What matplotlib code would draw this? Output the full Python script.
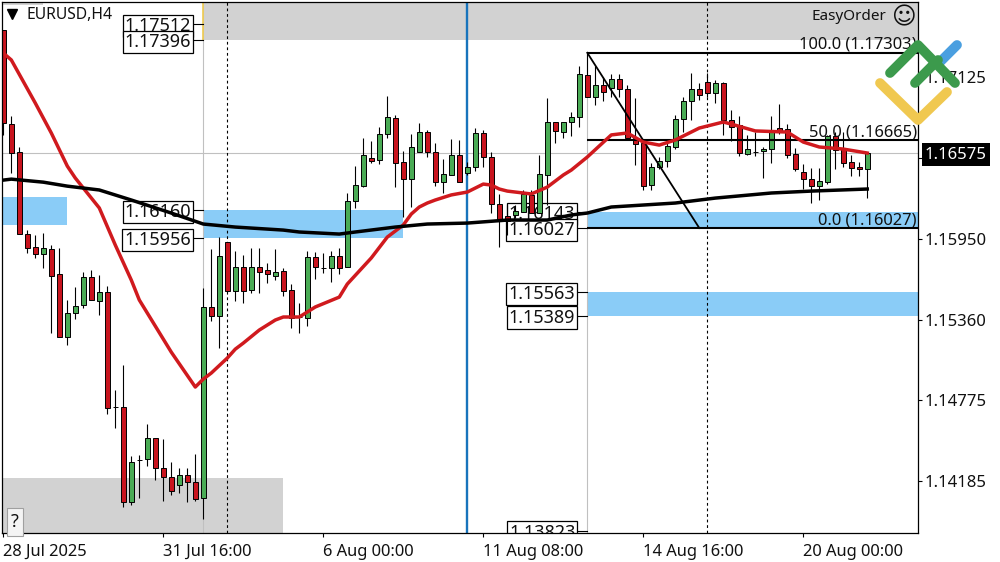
import matplotlib
matplotlib.use('Agg')
import matplotlib.pyplot as plt
from matplotlib.lines import Line2D

plt.rcParams['font.family'] = ['Noto Sans', 'DejaVu Sans']

# свічки EURUSD H4
opens = [1.17469, 1.16784, 1.16580, 1.15983, 1.15888, 1.15838, 1.15873, 1.15692, 1.15233, 1.15408,
         1.15467, 1.15670, 1.15496, 1.15560, 1.14723, 1.14723, 1.14031, 1.14337, 1.14344, 1.14498,
         1.14279, 1.14213, 1.14156, 1.14228, 1.14177, 1.14061, 1.15452, 1.15386, 1.15924, 1.15568,
         1.15743, 1.15575, 1.15743, 1.15721, 1.15677, 1.15714, 1.15575, 1.15379, 1.15372, 1.15816,
         1.15736, 1.15736, 1.15823, 1.15743, 1.16224, 1.16332, 1.16537, 1.16522, 1.16712, 1.16828,
         1.16507, 1.16383, 1.16580, 1.16726, 1.16580, 1.16361, 1.16413, 1.16559, 1.16427, 1.16471,
         1.16719, 1.16544, 1.16202, 1.16114, 1.16122, 1.16143, 1.16268, 1.16136, 1.16413, 1.16798,
         1.16726, 1.16798, 1.16835, 1.17142, 1.16981, 1.17069, 1.17047, 1.17112, 1.17039, 1.16683,
         1.16646, 1.16340, 1.16471, 1.16515, 1.16617, 1.16820, 1.16952, 1.17039, 1.17090, 1.17010,
         1.17083, 1.16813, 1.16777, 1.16566, 1.16580, 1.16588, 1.16602, 1.16755, 1.16747, 1.16566,
         1.16434, 1.16383, 1.16332, 1.16361, 1.16697, 1.16602, 1.16507, 1.16471, 1.16456]
closes = [1.16791, 1.16573, 1.15983, 1.15881, 1.15838, 1.15881, 1.15677, 1.15233, 1.15408, 1.15459,
          1.15670, 1.15503, 1.15560, 1.14716, 1.14723, 1.14031, 1.14322, 1.14337, 1.14498, 1.14279,
          1.14213, 1.14112, 1.14228, 1.14177, 1.14053, 1.15452, 1.15386, 1.15823, 1.15568, 1.15743,
          1.15568, 1.15743, 1.15706, 1.15692, 1.15706, 1.15568, 1.15372, 1.15379, 1.15816, 1.15743,
          1.15736, 1.15823, 1.15736, 1.16224, 1.16340, 1.16559, 1.16515, 1.16712, 1.16835, 1.16500,
          1.16383, 1.16617, 1.16726, 1.16580, 1.16361, 1.16420, 1.16559, 1.16361, 1.16471, 1.16719,
          1.16544, 1.16202, 1.16085, 1.16078, 1.16151, 1.16275, 1.16136, 1.16420, 1.16798, 1.16734,
          1.16798, 1.16835, 1.17149, 1.16981, 1.17069, 1.17017, 1.17112, 1.17039, 1.16683, 1.16639,
          1.16332, 1.16471, 1.16515, 1.16624, 1.16820, 1.16952, 1.17039, 1.16996, 1.17010, 1.17083,
          1.16813, 1.16762, 1.16573, 1.16602, 1.16580, 1.16602, 1.16741, 1.16734, 1.16559, 1.16456,
          1.16383, 1.16332, 1.16369, 1.16697, 1.16595, 1.16500, 1.16464, 1.16456, 1.16575]
highs = [1.17469, 1.16842, 1.16617, 1.16012, 1.15976, 1.15990, 1.15903, 1.15881, 1.15503, 1.15597,
         1.15706, 1.15721, 1.15685, 1.15604, 1.14847, 1.15030, 1.14366, 1.14374, 1.14600, 1.14498,
         1.14490, 1.14322, 1.14279, 1.14279, 1.14381, 1.15590, 1.15873, 1.15961, 1.15924, 1.15860,
         1.15831, 1.15881, 1.15881, 1.15772, 1.15873, 1.15736, 1.15619, 1.15481, 1.15860, 1.15852,
         1.15845, 1.15860, 1.15881, 1.16282, 1.16478, 1.16683, 1.16661, 1.16762, 1.16988, 1.16850,
         1.16588, 1.16712, 1.16791, 1.16741, 1.16646, 1.16529, 1.16675, 1.16668, 1.16507, 1.16755,
         1.16741, 1.16580, 1.16275, 1.16195, 1.16195, 1.16304, 1.16304, 1.16559, 1.16974, 1.16798,
         1.16798, 1.16871, 1.17207, 1.17303, 1.17207, 1.17127, 1.17149, 1.17149, 1.17069, 1.16974,
         1.16646, 1.16500, 1.16544, 1.16646, 1.16850, 1.16981, 1.17156, 1.17083, 1.17156, 1.17105,
         1.17090, 1.16886, 1.16842, 1.16705, 1.16726, 1.16617, 1.16842, 1.16930, 1.16784, 1.16610,
         1.16493, 1.16464, 1.16464, 1.16705, 1.16726, 1.16726, 1.16559, 1.16507, 1.16575]
lows = [1.16705, 1.16427, 1.15983, 1.15845, 1.15809, 1.15736, 1.15262, 1.15233, 1.15175, 1.15364,
        1.15445, 1.15503, 1.15394, 1.14672, 1.14571, 1.13995, 1.14010, 1.14061, 1.14293, 1.14192,
        1.14039, 1.14083, 1.14097, 1.14031, 1.14039, 1.13907, 1.15350, 1.15153, 1.15560, 1.15496,
        1.15481, 1.15553, 1.15553, 1.15626, 1.15648, 1.15531, 1.15299, 1.15262, 1.15313, 1.15655,
        1.15699, 1.15633, 1.15692, 1.15743, 1.16173, 1.16325, 1.16500, 1.16493, 1.16683, 1.16325,
        1.16107, 1.16180, 1.16580, 1.16544, 1.16332, 1.16282, 1.16413, 1.16361, 1.16413, 1.16442,
        1.16471, 1.16136, 1.15888, 1.15976, 1.16100, 1.16143, 1.16136, 1.16136, 1.16195, 1.16646,
        1.16683, 1.16697, 1.16762, 1.16981, 1.16923, 1.16952, 1.16981, 1.16981, 1.16668, 1.16486,
        1.16304, 1.16304, 1.16456, 1.16471, 1.16602, 1.16726, 1.16813, 1.16959, 1.16981, 1.16937,
        1.16705, 1.16661, 1.16551, 1.16559, 1.16551, 1.16391, 1.16500, 1.16712, 1.16537, 1.16442,
        1.16310, 1.16209, 1.16231, 1.16347, 1.16456, 1.16471, 1.16405, 1.16405, 1.16246]

# ковзні середні
red_bars = [0, 1, 4, 6, 8, 9, 12, 14, 16, 17, 21, 24, 25, 26, 28, 29, 30, 32, 34, 35, 37, 39, 42, 43, 46, 48,
            50, 51, 52, 53, 54, 56, 58, 60, 61, 62, 63, 65, 66, 68, 70, 71, 73, 76, 78, 80, 82, 84, 87, 90,
            91, 94, 98, 100, 102, 105, 108]
red_ma = [1.17301, 1.17251, 1.16937, 1.16719, 1.16478, 1.16391, 1.16173, 1.15903, 1.15648, 1.15503,
          1.15123, 1.14869, 1.14927, 1.14971, 1.15080, 1.15145, 1.15189, 1.15284, 1.15357, 1.15379,
          1.15379, 1.15452, 1.15524, 1.15619, 1.15809, 1.15961, 1.16049, 1.16129, 1.16180, 1.16209,
          1.16231, 1.16268, 1.16289, 1.16347, 1.16340, 1.16311, 1.16296, 1.16282, 1.16275, 1.16325,
          1.16413, 1.16449, 1.16544, 1.16705, 1.16719, 1.16653, 1.16631, 1.16668, 1.16755, 1.16799,
          1.16784, 1.16734, 1.16726, 1.16653, 1.16617, 1.16602, 1.16573]
black_bars = [0, 1, 5, 8, 12, 16, 21, 25, 29, 35, 37, 42, 44, 49, 53, 58, 63, 68, 71, 73, 76, 84, 89, 96, 101, 108]
black_ma = [1.16376, 1.16383, 1.16361, 1.16332, 1.16304, 1.16231, 1.16136, 1.16056, 1.16034, 1.16012,
            1.15998, 1.15983, 1.15998, 1.16034, 1.16056, 1.16063, 1.16085, 1.16085, 1.16122, 1.16136,
            1.16180, 1.16209, 1.16245, 1.16282, 1.16296, 1.16311]

# зони
blue_start = [-1, 25, 73, 73]
blue_end = [8, 50, 120, 120]
blue_low = [1.16049, 1.15956, 1.16027, 1.15389]
blue_high = [1.16253, 1.16160, 1.16143, 1.15563]
gray_start = [25, -1, -1]
gray_end = [120, 35, 5]
gray_low = [1.17396, 1.13700, 1.17650]
gray_high = [1.17800, 1.14206, 1.17800]

level_bars = [25, 25, 25, 25, 73, 73, 73, 73, 73]
level_prices = [1.17512, 1.17396, 1.16160, 1.15956, 1.16143, 1.16027, 1.15563, 1.15389, 1.13823]

fibo_levels = [1.17303, 1.16665, 1.16027]
fibo_labels = ['100.0 (1.17303)', '50.0 (1.16665)', '0.0 (1.16027)']

tick_bars = [0, 20, 40, 60, 80, 100]
tick_dates = ['28 Jul 2025', '31 Jul 16:00', '6 Aug 00:00', '11 Aug 08:00', '14 Aug 16:00', '20 Aug 00:00']
price_ticks = [1.17125, 1.16535, 1.15950, 1.15360, 1.14775, 1.14185]
last_price = 1.16575

W, H = 1000, 562
TEXT = '#111111'

fig = plt.figure(figsize=(W / 100, H / 100), dpi=100, facecolor='white')
ax = fig.add_axes([2 / W, 1 - 533 / H, 916 / W, 531 / H])
ax.set_xlim(-0.1625, 114.34)
ax.set_ylim(1.13806, 1.17673)
ax.set_axisbelow(False)

# зони та допоміжні лінії
for x0, x1, lo, hi in zip(gray_start, gray_end, gray_low, gray_high):
    ax.fill_between([x0, x1], lo, hi, color='#d2d2d2', lw=0, zorder=1)
for x0, x1, lo, hi in zip(blue_start, blue_end, blue_low, blue_high):
    ax.fill_between([x0, x1], lo, hi, color='#8accf7', lw=0, zorder=1)

ax.axhline(last_price, color='#c0c0c0', lw=0.8, zorder=1.5)
ax.axvline(25, color='#c0c0c0', lw=0.8, zorder=1.5)
ax.vlines(73, 1.13806, fibo_levels[0], color='#c0c0c0', lw=0.8, zorder=1.5)
ax.vlines(25, gray_low[0], 1.17673, color='#f0cc50', lw=1.2, zorder=1.6)
ax.axvline(28, color='black', lw=0.8, dashes=(2.5, 2.5), zorder=1.7)
ax.axvline(88, color='black', lw=0.8, dashes=(2.5, 2.5), zorder=1.7)
ax.axvline(58, color='#1874bc', lw=1.7, zorder=1.8)

# підписи рівнів
for bar, price in zip(level_bars, level_prices):
    ax.plot([bar - 1.25, bar], [price, price], color='black', lw=0.8, zorder=2)
    ax.annotate(f'{price:.5f}', xy=(bar, price), xycoords='data', xytext=(-12, 0),
                textcoords='offset pixels', ha='right', va='center_baseline', fontsize=13, color=TEXT,
                bbox=dict(boxstyle='square,pad=0.12', fc='white', ec='black', lw=0.9),
                annotation_clip=False, clip_on=True, zorder=2.1)

# свічки
for i in range(len(opens)):
    up = closes[i] > opens[i]
    ax.vlines(i, lows[i], highs[i], color='black', lw=0.8, zorder=3)
    ax.bar(i, closes[i] - opens[i], bottom=opens[i], width=0.58,
           color='#4aab55' if up else '#c8141e', edgecolor='black', linewidth=0.7, zorder=3.1)

# фібо
ax.hlines(fibo_levels, 73, 120, color='black', lw=1.5, zorder=3.3)
ax.plot([73, 87], [fibo_levels[0], fibo_levels[2]], color='black', lw=1.3, zorder=3.3)
for level, label in zip(fibo_levels, fibo_labels):
    ax.annotate(label, xy=(1, level), xycoords=('axes fraction', 'data'), xytext=(-1, 0),
                textcoords='offset pixels', ha='right', va='bottom', fontsize=11.9, color=TEXT, zorder=3.2)

ax.plot(red_bars, red_ma, color='#d01a1e', lw=2.5, zorder=4)
ax.plot(black_bars, black_ma, color='black', lw=2.5, zorder=4.2)

# осі
for side in ['left', 'right', 'top', 'bottom']:
    ax.spines[side].set_linewidth(0.9)
    ax.spines[side].set_zorder(6)
ax.yaxis.tick_right()
ax.set_yticks(price_ticks)
ax.set_yticklabels([f'{p:.5f}' for p in price_ticks], fontsize=12, color=TEXT)
ax.set_xticks(tick_bars)
ax.set_xticklabels(tick_dates, fontsize=11.9, color=TEXT, ha='left')
ax.tick_params(axis='both', length=3, width=0.8, pad=2)
ax.tick_params(axis='x', pad=5)

ax.annotate(f'{last_price:.5f}', xy=(1, last_price), xycoords=('axes fraction', 'data'), xytext=(7, 0),
            textcoords='offset pixels', ha='left', va='center_baseline', fontsize=12, color='white',
            bbox=dict(boxstyle='square,pad=0.2', fc='black', ec='black', lw=0), annotation_clip=False, zorder=7)

# написи у кутах
fig.text(26 / W, 1 - 15 / H, 'EURUSD,H4', fontsize=11.3, color=TEXT, va='center', ha='left')
fig.add_artist(Line2D([12 / W], [1 - 14 / H], marker='v', ms=7, color='black', lw=0, transform=fig.transFigure))
fig.text(886 / W, 1 - 16 / H, 'EasyOrder', fontsize=11, color=TEXT, va='center', ha='right')
fig.text(903 / W, 1 - 17 / H, '\u263a', family='DejaVu Sans', fontsize=17, color=TEXT, va='center', ha='center')
fig.text(15 / W, 1 - 522 / H, '?', fontsize=13, color=TEXT, va='center', ha='center',
         bbox=dict(boxstyle='square,pad=0.25', fc='#f4f4f4', ec='#a0a0a0', lw=0.8))

# логотип
logo_lines = [([940, 957], [62, 45], '#4a9fe0'),
              ([880, 918, 947], [83, 120, 92], '#f0c850'),
              ([890, 918, 955], [73, 45, 83], '#3c9a4c'),
              ([915, 938], [83, 60], '#3c9a4c')]
for xs, ys, color in logo_lines:
    fig.add_artist(Line2D([x / W for x in xs], [1 - y / H for y in ys], color=color, lw=7,
                          solid_capstyle='round', solid_joinstyle='round', transform=fig.transFigure, zorder=8))

plt.savefig('out.png', dpi=100)
